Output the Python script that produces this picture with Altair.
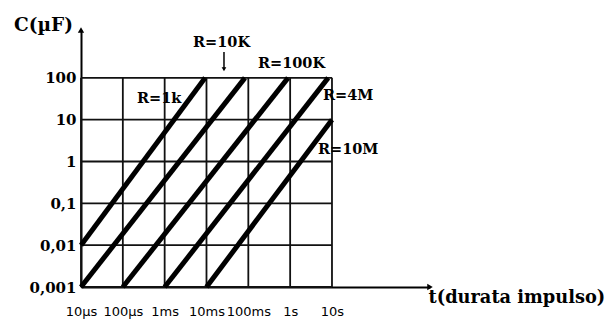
import json
import altair as alt
import pandas as pd

# ---- axis ticks / labels ----
t_ticks = [1e-5, 1e-4, 1e-3, 1e-2, 1e-1, 1, 10]
t_labels = ["10µs", "100µs", "1ms", "10ms", "100ms", "1s", "10s"]
c_ticks = [0.001, 0.01, 0.1, 1, 10, 100]
c_labels = ["0,001", "0,01", "0,1", "1", "10", "100"]

# ---- R lines (start / end points) ----
line_names = ["R=1k", "R=10K", "R=100K", "R=4M", "R=10M"]
t_start = [1e-5, 1e-5, 1e-4, 1e-3, 1e-2]
t_end = [9.3e-3, 0.083, 0.89, 8.1, 10]
c_start = [0.01, 0.001, 0.001, 0.001, 0.001]
c_end = [100, 100, 100, 100, 10]

# ---- annotation labels ----
lab_text = ["R=1k", "R=10K", "R=100K", "R=4M", "R=10M"]
lab_t = [2.18e-4, 4.77e-3, 0.170, 6.10, 4.63]
lab_c = [31.2, 681, 214, 36.8, 1.88]

# arrow under R=10K
arrow_t = [0.0262]
arrow_c_top = [415]
arrow_c_bot = [160]

# ---- layout ----
D = 41.83          # pixels per decade
W, H = 349, 257    # plot area
X0, Y0 = 1e-5, 1e-3
X1 = X0 * 10 ** (W / D)
Y1 = Y0 * 10 ** (H / D)

xs = alt.Scale(type="log", domain=[X0, X1], nice=False)
ys = alt.Scale(type="log", domain=[Y0, Y1], nice=False)

xexpr = json.dumps(t_labels, ensure_ascii=False) + "[round(log(datum.value)/LN10)+5]"
yexpr = json.dumps(c_labels, ensure_ascii=False) + "[round(log(datum.value)/LN10)+3]"

xaxis = alt.Axis(
    values=t_ticks, labelExpr=xexpr, title="t(durata impulso)",
    titleX=347, titleY=10, titleAlign="left", titleBaseline="middle",
    titleFont="DejaVu Serif", titleFontSize=17.8, titleFontWeight="bold", titleColor="black",
    labelFont="DejaVu Sans", labelFontSize=13, labelColor="black",
    labelPadding=24, labelBaseline="middle", labelFlush=False, labelOverlap=False,
    ticks=False, grid=False, domainColor="black", domainWidth=2,
)
yaxis = alt.Axis(
    values=c_ticks, labelExpr=yexpr, title="C(µF)",
    titleAngle=0, titleX=-38, titleY=-6, titleAlign="center", titleBaseline="middle",
    titleFont="DejaVu Serif", titleFontSize=18.5, titleFontWeight="bold", titleColor="black",
    labelFont="DejaVu Serif", labelFontSize=15, labelFontWeight="bold", labelColor="black",
    labelPadding=5, labelBaseline="middle", labelFlush=False, labelOverlap=False,
    ticks=False, grid=False, domainColor="black", domainWidth=2,
)

vgrid = pd.DataFrame({"t": t_ticks, "c0": [c_ticks[0]] * len(t_ticks), "c1": [c_ticks[-1]] * len(t_ticks)})
hgrid = pd.DataFrame({"c": c_ticks, "t0": [t_ticks[0]] * len(c_ticks), "t1": [t_ticks[-1]] * len(c_ticks)})
lines = pd.DataFrame({"name": line_names, "t0": t_start, "t1": t_end, "c0": c_start, "c1": c_end})
labels = pd.DataFrame({"text": lab_text, "t": lab_t, "c": lab_c})
arrow = pd.DataFrame({"t": arrow_t, "c0": arrow_c_top, "c1": arrow_c_bot})
heads = pd.DataFrame({"t": [X0, X1], "c": [Y1, Y0], "shape": ["triangle-up", "triangle-right"]})

g1 = alt.Chart(vgrid).mark_rule(color="#111", strokeWidth=1.8).encode(
    x=alt.X("t:Q", scale=xs, axis=xaxis),
    y=alt.Y("c0:Q", scale=ys, axis=yaxis),
    y2="c1:Q",
)
g2 = alt.Chart(hgrid).mark_rule(color="#111", strokeWidth=1.8).encode(
    x=alt.X("t0:Q", scale=xs, axis=xaxis), x2="t1:Q",
    y=alt.Y("c:Q", scale=ys, axis=yaxis),
)
ln = alt.Chart(lines).mark_rule(color="black", strokeWidth=5).encode(
    x=alt.X("t0:Q", scale=xs, axis=xaxis), x2="t1:Q",
    y=alt.Y("c0:Q", scale=ys, axis=yaxis), y2="c1:Q",
)
tx = alt.Chart(labels).mark_text(
    align="left", baseline="middle", font="DejaVu Serif", fontSize=14.5, fontWeight="bold", color="black"
).encode(
    x=alt.X("t:Q", scale=xs, axis=xaxis),
    y=alt.Y("c:Q", scale=ys, axis=yaxis),
    text="text:N",
)
ar = alt.Chart(arrow).mark_rule(color="black", strokeWidth=1.5).encode(
    x=alt.X("t:Q", scale=xs, axis=xaxis),
    y=alt.Y("c0:Q", scale=ys, axis=yaxis), y2="c1:Q",
)
arh = alt.Chart(arrow).mark_point(shape="triangle-down", filled=True, color="black", size=22, opacity=1).encode(
    x=alt.X("t:Q", scale=xs, axis=xaxis),
    y=alt.Y("c1:Q", scale=ys, axis=yaxis),
)
hd = alt.Chart(heads).mark_point(filled=True, color="black", size=40, opacity=1).encode(
    x=alt.X("t:Q", scale=xs, axis=xaxis),
    y=alt.Y("c:Q", scale=ys, axis=yaxis),
    shape=alt.Shape("shape:N", scale=None),
)

chart = alt.layer(g1, g2, ln, tx, ar, arh, hd).properties(
    width=W, height=H,
    autosize=alt.AutoSizeParams(type="none"),
    padding={"left": 73, "top": 22, "right": 178, "bottom": 32},
    background="white",
).configure_view(stroke=None)

chart.save("out.html", embed_options={"renderer": "svg", "actions": False})
